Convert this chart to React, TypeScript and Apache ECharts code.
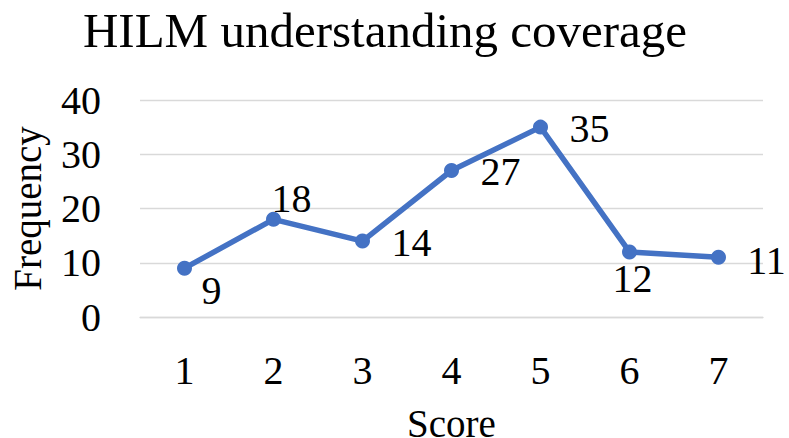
import React, { useEffect, useRef } from "react";
import * as echarts from "echarts";

const titleText = "HILM understanding coverage";
const xAxisName = "Score";
const yAxisName = "Frequency";
const categories = ["1", "2", "3", "4", "5", "6", "7"];
const frequencies = [9, 18, 14, 27, 35, 12, 11];
// label placement (style), offset from each point in px
const labelOffsets: [number, number][] = [
  [27, 22],
  [18, -21],
  [49, 1],
  [49, 1],
  [49, 1],
  [3, 27],
  [48, 3],
];

const FONT = "'Liberation Serif', 'Times New Roman', serif";

export default function App() {
  const ref = useRef<HTMLDivElement>(null);
  useEffect(() => {
    if (!ref.current) return;
    document.body.style.margin = "0";
    const chart = echarts.init(ref.current, undefined, { renderer: "svg" });
    chart.setOption({
      animation: false,
      backgroundColor: "#ffffff",
      textStyle: { fontFamily: FONT, color: "#000" },
      title: {
        text: titleText,
        left: 380,
        textAlign: "center",
        top: 1,
        textStyle: { fontFamily: FONT, fontSize: 49, fontWeight: "normal", color: "#000" },
      },
      grid: {
        left: 140,
        right: 26,
        top: 100,
        bottom: 121,
        containLabel: false,
        outerBoundsMode: "none",
      },
      xAxis: {
        type: "category",
        data: categories,
        boundaryGap: true,
        name: xAxisName,
        nameLocation: "middle",
        nameGap: 91,
        nameTextStyle: { fontFamily: FONT, fontSize: 39, lineHeight: 30, color: "#000" },
        axisLine: { show: true, lineStyle: { color: "#d9d9d9", width: 1.3 } },
        axisTick: { show: false },
        axisLabel: { fontFamily: FONT, fontSize: 40, color: "#000", margin: 33 },
      },
      yAxis: {
        type: "value",
        min: 0,
        max: 40,
        interval: 10,
        name: yAxisName,
        nameLocation: "middle",
        nameGap: 93,
        nameTextStyle: { fontFamily: FONT, fontSize: 39, color: "#000" },
        axisLine: { show: false },
        axisTick: { show: false },
        axisLabel: { fontFamily: FONT, fontSize: 40, color: "#000", margin: 39 },
        splitLine: { lineStyle: { color: "#d9d9d9", width: 1.3 } },
      },
      series: [
        {
          type: "line",
          data: frequencies.map((v, i) => ({
            value: v,
            label: { offset: labelOffsets[i] },
          })),
          symbol: "circle",
          symbolSize: 15,
          lineStyle: { color: "#4472C4", width: 5.5 },
          itemStyle: { color: "#4472C4" },
          label: {
            show: true,
            position: "inside",
            fontFamily: FONT,
            fontSize: 40,
            color: "#000",
          },
        },
      ],
    });
    return () => chart.dispose();
  }, []);
  return <div ref={ref} style={{ width: 789, height: 438 }} />;
}
